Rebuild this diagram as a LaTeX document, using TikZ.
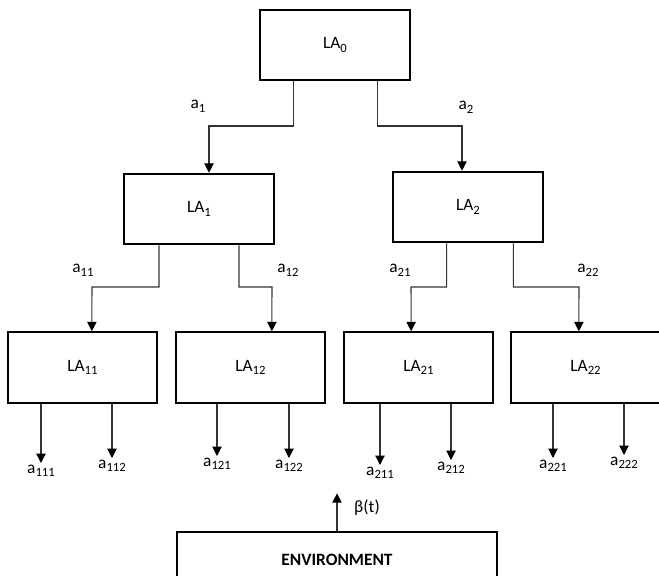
\documentclass[tikz,border=0pt]{standalone}
\usepackage{fontspec}
\setmainfont{Carlito}
\usetikzlibrary{arrows.meta}

\newcommand{\lsub}[1]{\raisebox{-0.45ex}{\fontsize{9.5}{10}\selectfont #1}}

\tikzset{
  labox/.style={draw, line width=1.4pt, minimum width=112pt, minimum height=53pt},
  envbox/.style={draw, line width=1pt, minimum width=240pt, minimum height=42pt},
  conn/.style={draw=black!80, line width=0.8pt, -{Triangle[width=7pt,length=7pt,black]}},
  act/.style={inner sep=1pt}
}

\begin{document}
\begin{tikzpicture}[x=0.75pt, y=-0.75pt, every node/.style={font=\fontsize{13}{15}\selectfont}]
\useasboundingbox (0,0) rectangle (659,575);
% learning automata
\node[labox] (la0) at (335,45) {LA\lsub{0}};
\node[labox] (la1) at (199,209) {LA\lsub{1}};
\node[labox] (la2) at (468,207) {LA\lsub{2}};
\node[labox] (la11) at (82.5,367.5) {LA\lsub{11}};
\node[labox] (la12) at (250.5,367.5) {LA\lsub{12}};
\node[labox] (la21) at (418.5,367.5) {LA\lsub{21}};
\node[labox] (la22) at (585.5,367.5) {LA\lsub{22}};
\node[envbox] (env) at (337,560) {\textbf{ENVIRONMENT}};

% actions, first levels
\node[act] (a1) at (198,106) {a\lsub{1}};
\node[act] (a2) at (466,107) {a\lsub{2}};
\node[act] (a11) at (83,270) {a\lsub{11}};
\node[act] (a12) at (288,270) {a\lsub{12}};
\node[act] (a21) at (400,270) {a\lsub{21}};
\node[act] (a22) at (588,270) {a\lsub{22}};

\draw[conn] ([xshift=-31pt]la0.south) |- (209,126) -- ([xshift=7.5pt]la1.north);
\draw[conn] ([xshift=32pt]la0.south) |- (462,126) -- ([xshift=-4.5pt]la2.north);
\draw[conn] ([xshift=-30pt]la1.south) |- (92,287) -- ([xshift=7pt]la11.north);
\draw[conn] ([xshift=30pt]la1.south) |- (272,287) -- ([xshift=16pt]la12.north);
\draw[conn] ([xshift=-16pt]la2.south) |- (411,287) -- ([xshift=-5.5pt]la21.north);
\draw[conn] ([xshift=34pt]la2.south) |- (579,287) -- ([xshift=-5pt]la22.north);

% leaf actions
\node[act, anchor=north] (a111) at (41,463) {a\lsub{111}};
\node[act, anchor=north] (a112) at (112,458) {a\lsub{112}};
\node[act, anchor=north] (a121) at (217,456) {a\lsub{121}};
\node[act, anchor=north] (a122) at (289,458) {a\lsub{122}};
\node[act, anchor=north] (a211) at (380,465) {a\lsub{211}};
\node[act, anchor=north] (a212) at (451,460) {a\lsub{212}};
\node[act, anchor=north] (a221) at (553,458) {a\lsub{221}};
\node[act, anchor=north] (a222) at (624,455) {a\lsub{222}};

\foreach \la/\ac in {la11/a111, la11/a112, la12/a121, la12/a122,
                     la21/a211, la21/a212, la22/a221, la22/a222}
  \draw[conn] (\la.south -| \ac.north) -- (\ac.north);

% feedback
\node (beta) at (367,508) {β(t)};
\draw[conn] (env.north) -- ++(0,-38);
\end{tikzpicture}
\end{document}
